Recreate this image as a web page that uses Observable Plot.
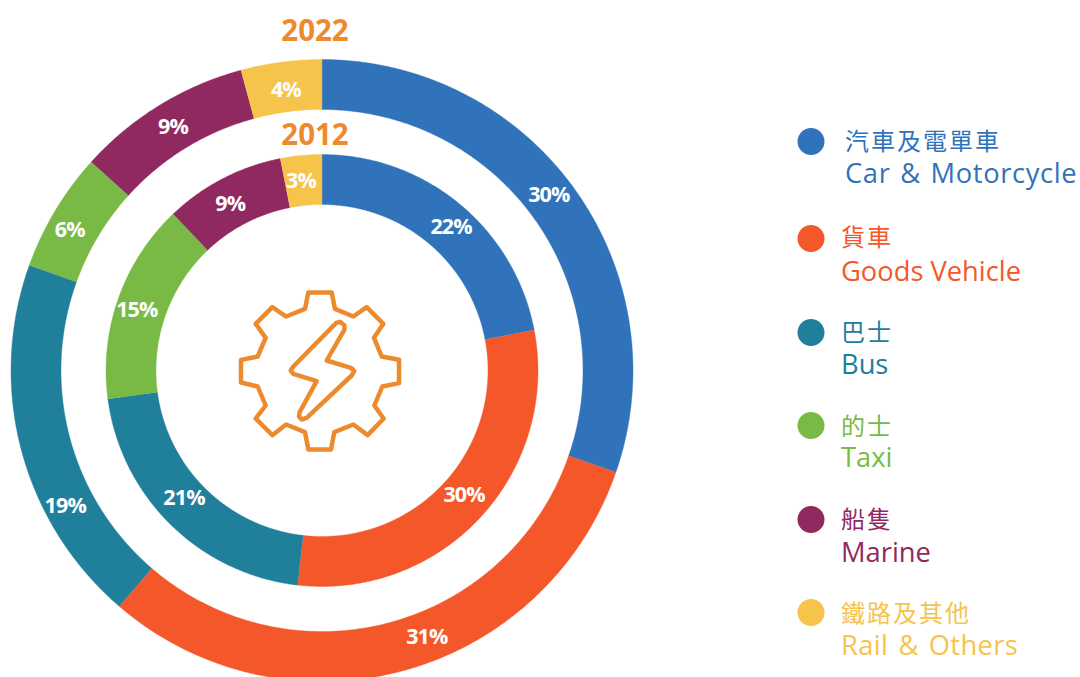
<!DOCTYPE html>
<html><head><meta charset="utf-8">
<script src="https://cdn.jsdelivr.net/npm/d3@7"></script>
<script src="https://cdn.jsdelivr.net/npm/@observablehq/plot@0.6"></script>
<style>
html,body{margin:0;padding:0;background:#fff;overflow:hidden}
svg{display:block}
</style></head><body><div id="chart"></div>
<script>
// Data
const categoriesZh = ["汽車及電單車","貨車","巴士","的士","船隻","鐵路及其他"];
const categoriesEn = ["Car & Motorcycle","Goods Vehicle","Bus","Taxi","Marine","Rail & Others"];
const colors = ["#3073BA","#F4582A","#20809B","#78BA45","#90295F","#F6C34B"];
// slice sizes as drawn (share of circle)
const shares2022 = [30.3,31.0,19.2,6.2,9.1,4.2];
const shares2012 = [22.0,29.8,21.1,15.0,9.0,3.1];
// printed labels
const labels2022 = ["30%","31%","19%","6%","9%","4%"];
const labels2012 = ["22%","30%","21%","15%","9%","3%"];
// where each printed label sits around its ring (degrees clockwise from top, radius)
const labelAngle2022 = [52.2,158.5,242.3,299.2,328.6,352.7];
const labelRadius2022 = [287,286,290,289,286,284];
const labelAngle2012 = [41.7,131.1,227.4,288.2,331.2,353.7];
const labelRadius2012 = [194,188.5,187.5,195,190.6,192];
const years = ["2022","2012"];

// Icon outlines (decorative)
const gearX = [250,320,330,385,425,475,447,470,522,522,472,448,476,428,385,328,318,250,240,183,142,92,122,98,48,48,98,122,92,142,183,240,250];
const gearY = [36,36,85,108,80,130,172,228,238,308,318,375,414,464,432,455,507,507,455,432,464,414,375,318,306,238,228,172,130,80,108,85,36];
const boltX = [333,345,358,358,305,378,388,380,245,230,222,224,275,205,197,205,333];
const boltY = [128,124,134,148,240,262,272,285,412,417,408,395,302,280,270,258,128];

// Geometry
const W = 1080, H = 677, cx = 322, cy = 370;
const rad = d => d * Math.PI / 180;
const px = (r,a) => r * Math.sin(rad(a));
const py = (r,a) => -r * Math.cos(rad(a));

function ring(shares, r0, r1, year){
  const out = []; let start = 0;
  shares.forEach((s,i) => {
    const a0 = start * 3.6, a1 = (start + s) * 3.6, n = Math.ceil((a1-a0)/0.5);
    const key = year + i;
    for (let k=0;k<=n;k++){ const a=a0+(a1-a0)*k/n; out.push({x:px(r1,a),y:py(r1,a),key,c:colors[i]}); }
    for (let k=n;k>=0;k--){ const a=a0+(a1-a0)*k/n; out.push({x:px(r0,a),y:py(r0,a),key,c:colors[i]}); }
    start += s;
  });
  return out;
}
const rings = [...ring(shares2022,261,311,"a"),...ring(shares2012,166,216,"b")];
const ringLabels = [
  ...labels2022.map((t,i)=>({t,x:px(labelRadius2022[i],labelAngle2022[i]),y:py(labelRadius2022[i],labelAngle2022[i])})),
  ...labels2012.map((t,i)=>({t,x:px(labelRadius2012[i],labelAngle2012[i]),y:py(labelRadius2012[i],labelAngle2012[i])}))
];
const iconPts = (xs,ys,key)=>xs.map((x,i)=>({x:(225+x/3)-cx,y:(280+ys[i]/3)-cy,key}));
const icon = [...iconPts(gearX,gearY,"gear"),...iconPts(boltX,boltY,"bolt")];

const legendDotY = [141,238,332,425,519,612];
const legendZhY = [142,238,333,427,520,614];
const legendEnY = [174,272,365,458,553,646];
const legendX = [845,841,841,841,841,841];
const legend = categoriesZh.map((zh,i)=>({zh,en:categoriesEn[i],c:colors[i],dx:811-cx,dy:legendDotY[i]-cy,tx:legendX[i]-cx,zy:legendZhY[i]-cy,ey:legendEnY[i]-cy}));

const plot = Plot.plot({
  width:W,height:H,margin:0,
  x:{domain:[-cx+0.5,W-cx+0.5],range:[0,W],axis:null},
  y:{domain:[-cy,H-cy],range:[0,H],axis:null},
  marks:[
    Plot.line(rings,{x:"x",y:"y",z:"key",fill:"c",stroke:"c",strokeWidth:0.4,curve:"linear"}),
    Plot.text(ringLabels,{x:"x",y:"y",dy:1,text:"t",fill:"#fff",fontSize:21.5,fontWeight:700,fontFamily:"Open Sans"}),
    Plot.text(years,{x:[-7,-7],y:[30-cy,134-cy],dy:1,text:d=>d,fill:"#EE8A2E",fontSize:29.5,fontWeight:700,fontFamily:"Open Sans"}),
    Plot.line(icon,{x:"x",y:"y",z:"key",stroke:"#EE8A2E",strokeWidth:4.5,strokeLinejoin:"round",curve:"linear"}),
    Plot.dot(legend,{x:"dx",y:"dy",r:13.5,fill:"c"}),
    Plot.text(legend,{x:"tx",y:"zy",text:"zh",fill:"c",textAnchor:"start",fontSize:24,fontFamily:"Noto Sans CJK TC"}),
    Plot.text(legend,{x:"tx",y:"ey",text:"en",fill:"c",textAnchor:"start",fontSize:27.3,fontFamily:"Open Sans"})
  ]
});
document.getElementById("chart").append(plot);
const texts = d3.select(plot).selectAll("text");
texts.filter(function(){return /[\u4e00-\u9fff]/.test(this.textContent)}).style("letter-spacing","2px");
texts.filter(function(){return /%$/.test(this.textContent)}).style("letter-spacing","-0.9px");
texts.filter(function(){return this.textContent==="Car & Motorcycle"}).style("letter-spacing","0.65px").style("word-spacing","2px");
texts.filter(function(){return this.textContent==="Rail & Others"}).style("letter-spacing","0.4px").style("word-spacing","2.5px");
</script></body></html>
